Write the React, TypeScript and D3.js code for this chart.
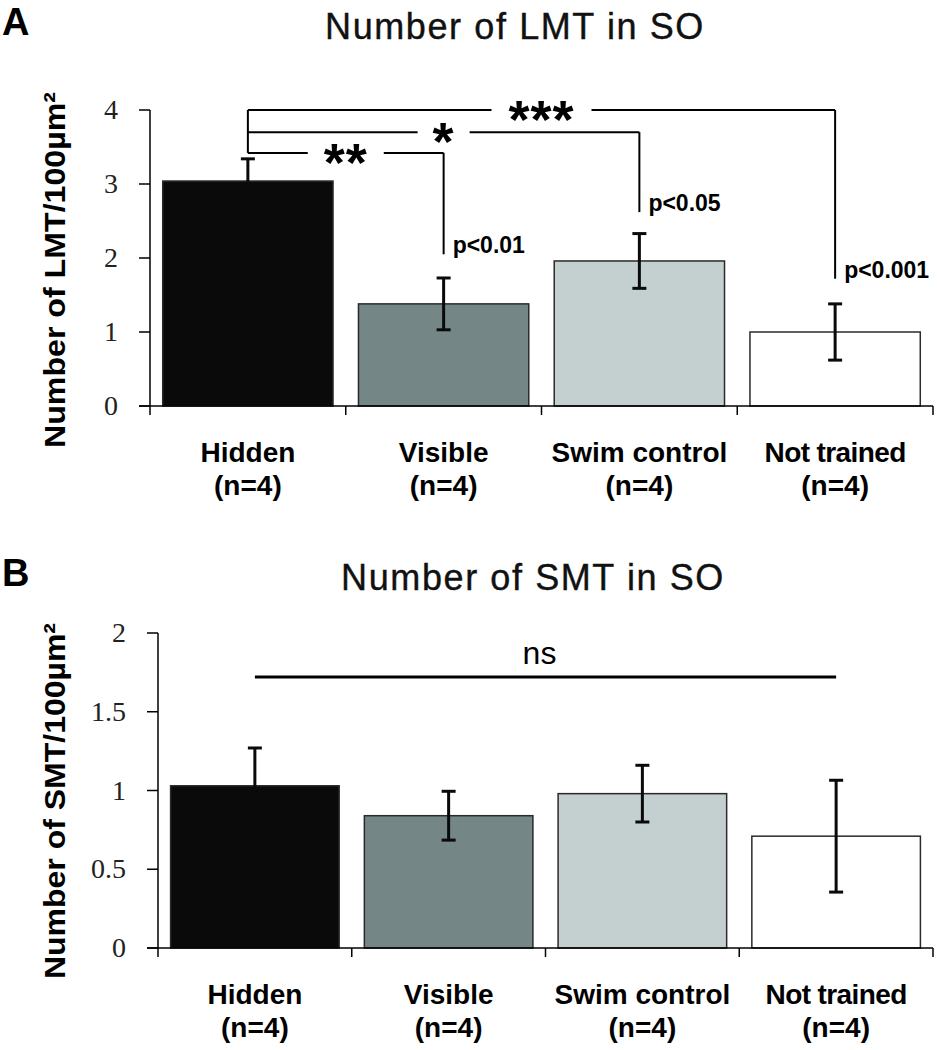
import React from "react";
import * as d3 from "d3";

const categories = ["Hidden", "Visible", "Swim control", "Not trained"];
const nLabels = ["(n=4)", "(n=4)", "(n=4)", "(n=4)"];
const barColors = ["#0a0a0a", "#748685", "#c4d0cf", "#ffffff"];

const lmtMeans = [3.04, 1.38, 1.96, 1.0];
const lmtErrors = [0.3, 0.35, 0.37, 0.38];
const lmtTicks = [0, 1, 2, 3, 4];

const smtMeans = [1.03, 0.84, 0.98, 0.71];
const smtErrors = [0.24, 0.155, 0.18, 0.355];
const smtTicks = [0, 0.5, 1, 1.5, 2];

// significance brackets for panel A: from Hidden to target
const sigTargets = ["Visible", "Swim control", "Not trained"];
const sigStars = ["**", "*", "***"];
const sigPLabels = ["p<0.01", "p<0.05", "p<0.001"];
const sigLevels = [3.42, 3.7, 4.0]; // bracket heights (data units)
const sigDropEnds = [2.05, 2.62, 1.72]; // where the right leg ends (data units)

const FONT = "'Liberation Sans', Arial, Helvetica, sans-serif";
const SERIF = "'Liberation Serif', 'Times New Roman', serif";

type PanelProps = {
  letter: string;
  title: string;
  titleX: number;
  ylabel: string;
  means: number[];
  errors: number[];
  ticks: number[];
  domainMax: number;
  x0: number;
  x1: number;
  yBottom: number;
  yTop: number;
  top: number;
  labelCenterY: number;
  tickFmt: (v: number) => string;
  children?: (x: d3.ScaleBand<string>, y: d3.ScaleLinear<number, number>) => React.ReactNode;
};

function Panel(p: PanelProps) {
  const x = d3
    .scaleBand<string>()
    .domain(categories)
    .range([p.x0, p.x1])
    .paddingInner(0.13)
    .paddingOuter(0.065);
  const y = d3.scaleLinear().domain([0, p.domainMax]).range([p.yBottom, p.yTop]);
  const step = x.step();
  const boundaries = d3.range(categories.length + 1).map((i) => p.x0 + i * step);
  const capW = 7;
  return (
    <g>
      <text x={2} y={p.top + 35} fontFamily={FONT} fontWeight="bold" fontSize={38} fill="#000">
        {p.letter}
      </text>
      <text
        x={p.titleX}
        y={p.top + 39}
        textAnchor="middle"
        fontFamily={FONT}
        fontSize={36}
        letterSpacing={1.6}
        stroke="#111"
        strokeWidth={0.4}
        fill="#111"
      >
        {p.title}
      </text>
      <text
        transform={`translate(65,${p.labelCenterY}) rotate(-90)`}
        textAnchor="middle"
        fontFamily={FONT}
        fontWeight="bold"
        fontSize={30}
        textLength={356}
        lengthAdjust="spacingAndGlyphs"
        fill="#000"
      >
        {p.ylabel}
      </text>
      {/* bars */}
      {categories.map((c, i) => (
        <rect
          key={c}
          x={x(c)!}
          y={y(p.means[i])}
          width={x.bandwidth()}
          height={y(0) - y(p.means[i])}
          fill={barColors[i]}
          stroke="#2a2a2a"
          strokeWidth={1.5}
        />
      ))}
      {/* error bars */}
      {categories.map((c, i) => {
        const cx = x(c)! + x.bandwidth() / 2;
        const hi = y(p.means[i] + p.errors[i]);
        const lo = y(p.means[i] - p.errors[i]);
        return (
          <g key={c + "e"} stroke="#0a0a0a" strokeWidth={3}>
            <line x1={cx} x2={cx} y1={hi} y2={lo} />
            <line x1={cx - capW} x2={cx + capW} y1={hi} y2={hi} />
            <line x1={cx - capW} x2={cx + capW} y1={lo} y2={lo} />
          </g>
        );
      })}
      {/* axes */}
      <line x1={p.x0} x2={p.x0} y1={y(p.domainMax)} y2={y(0)} stroke="#000" strokeWidth={1.5} />
      {p.ticks.map((t) => (
        <g key={t}>
          <line x1={p.x0 - 11} x2={p.x0} y1={y(t)} y2={y(t)} stroke="#000" strokeWidth={1.5} />
          <text
            x={p.x0 - 32}
            y={y(t) + 9}
            textAnchor="end"
            fontFamily={SERIF}
            fontSize={28}
            fill="#222"
          >
            {p.tickFmt(t)}
          </text>
        </g>
      ))}
      <line x1={p.x0 - 11} x2={p.x1} y1={y(0)} y2={y(0)} stroke="#000" strokeWidth={1.5} />
      {boundaries.map((bx, i) => (
        <line key={i} x1={bx} x2={bx} y1={y(0)} y2={y(0) + 9} stroke="#000" strokeWidth={1.5} />
      ))}
      {/* category labels */}
      {categories.map((c, i) => {
        const cx = x(c)! + x.bandwidth() / 2;
        return (
          <text
            key={c + "l"}
            textAnchor="middle"
            fontFamily={FONT}
            fontWeight="bold"
            fontSize={28}
            fill="#000"
            letterSpacing={c === "Not trained" ? -0.6 : 0}
          >
            <tspan x={cx} y={y(0) + 56}>
              {c}
            </tspan>
            <tspan x={cx} y={y(0) + 89} letterSpacing={0}>
              {nLabels[i]}
            </tspan>
          </text>
        );
      })}
      {p.children && p.children(x, y)}
    </g>
  );
}

function starGap(stars: string) {
  return 14 + stars.length * 12;
}

export default function App() {
  return (
    <svg
      width={937}
      height={1050}
      viewBox="0 0 937 1050"
      style={{ position: "absolute", left: 0, top: 0, background: "#fff" }}
    >
      <rect x={0} y={0} width={937} height={1050} fill="#fff" />
      <Panel
        letter="A"
        title="Number of LMT in SO"
        titleX={515}
        ylabel="Number of LMT/100µm²"
        means={lmtMeans}
        errors={lmtErrors}
        ticks={lmtTicks}
        domainMax={4}
        x0={150}
        x1={933}
        yBottom={406}
        yTop={110}
        top={0}
        labelCenterY={270}
        tickFmt={(v) => String(v)}
      >
        {(x, y) => {
          const hx = x("Hidden")! + x.bandwidth() / 2;
          const topY = y(d3.max(sigLevels)!);
          const botY = y(d3.min(sigLevels)!);
          return (
            <g>
              <line x1={hx} x2={hx} y1={topY} y2={botY} stroke="#000" strokeWidth={2} />
              {sigTargets.map((t, i) => {
                const tx = x(t)! + x.bandwidth() / 2;
                const ly = y(sigLevels[i]);
                const mid = (hx + tx) / 2;
                const g = starGap(sigStars[i]);
                const fs = 54;
                return (
                  <g key={t}>
                    <line x1={hx} x2={mid - g} y1={ly} y2={ly} stroke="#000" strokeWidth={2} />
                    <line x1={mid + g} x2={tx} y1={ly} y2={ly} stroke="#000" strokeWidth={2} />
                    <line
                      x1={tx}
                      x2={tx}
                      y1={ly}
                      y2={y(sigDropEnds[i])}
                      stroke="#000"
                      strokeWidth={2}
                    />
                    <text
                      x={mid}
                      y={ly + 0.52 * fs}
                      textAnchor="middle"
                      fontFamily={FONT}
                      fontWeight="bold"
                      fontSize={fs}
                      letterSpacing={1}
                      fill="#000"
                    >
                      {sigStars[i]}
                    </text>
                    <text
                      x={tx + 9}
                      y={y(sigDropEnds[i]) - 1}
                      fontFamily={FONT}
                      fontWeight="bold"
                      fontSize={23}
                      fill="#000"
                    >
                      {sigPLabels[i]}
                    </text>
                  </g>
                );
              })}
            </g>
          );
        }}
      </Panel>
      <Panel
        letter="B"
        title="Number of SMT in SO"
        titleX={533}
        ylabel="Number of SMT/100µm²"
        means={smtMeans}
        errors={smtErrors}
        ticks={smtTicks}
        domainMax={2}
        x0={158}
        x1={933}
        yBottom={948}
        yTop={633}
        top={551}
        labelCenterY={801}
        tickFmt={(v) => String(v)}
      >
        {(x, y) => {
          const hx = x("Hidden")! + x.bandwidth() / 2;
          const nx = x("Not trained")! + x.bandwidth() / 2;
          const ly = y(1.72);
          return (
            <g>
              <line x1={hx} x2={nx} y1={ly} y2={ly} stroke="#000" strokeWidth={3} />
              <text
                x={(hx + nx) / 2 - 6}
                y={ly - 13}
                textAnchor="middle"
                fontFamily={FONT}
                fontSize={32}
                fill="#000"
              >
                ns
              </text>
            </g>
          );
        }}
      </Panel>
    </svg>
  );
}
